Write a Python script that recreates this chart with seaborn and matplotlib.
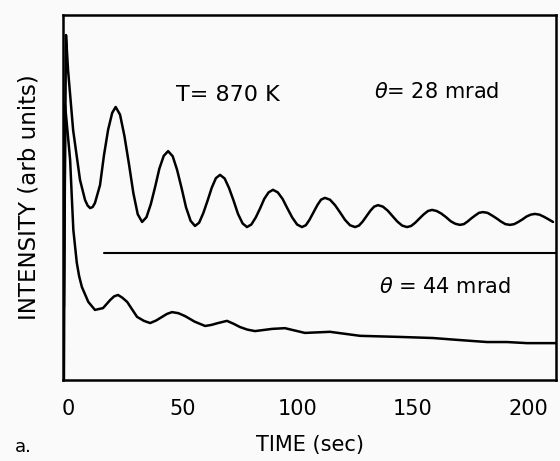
import matplotlib
matplotlib.use("Agg")
import matplotlib.pyplot as plt
import seaborn as sns
import pandas as pd

# values (time in sec, intensity in arb. units 0-100)
time_28 = [-1.8, -0.9, 0.0, 2.2, 5.2, 7.4, 8.5, 9.6, 10.7, 11.7, 13.9, 15.6,
           17.4, 19.2, 20.7,
           22.6, 24.5, 26.5, 28.4, 30.3, 32.2,
           34.1, 36.0, 37.9, 39.7, 41.6, 43.5,
           45.5, 47.4, 49.4, 51.3, 53.3, 55.2,
           57.0, 58.8, 60.7, 62.5, 64.3, 66.1,
           68.1, 70.0, 72.0, 73.9, 75.9, 77.8,
           79.7, 81.6, 83.5, 85.3, 87.2, 89.1,
           91.2, 93.3, 95.4, 97.5, 99.6, 101.7,
           103.4, 105.0, 106.7, 108.4, 110.0, 111.7,
           113.9, 116.1, 118.3, 120.4, 122.6, 124.8,
           126.5, 128.1, 129.8, 131.5, 133.1, 134.8,
           136.9, 139.0, 141.1, 143.2, 145.3, 147.4,
           149.2, 151.0, 152.9, 154.7, 156.5, 158.3,
           160.3, 162.3, 164.4, 166.4, 168.4, 170.4,
           172.1, 173.7, 175.4, 177.1, 178.7, 180.4,
           182.4, 184.3, 186.3, 188.3, 190.2, 192.2,
           194.0, 195.8, 197.6, 199.4, 201.2, 203.0,
           205.0, 207.0, 209.0, 210.9]
int_28 = [20.0, 94.5, 84.9, 68.5, 54.8, 49.3, 47.8, 47.1, 47.4, 48.5, 53.4, 61.5,
          68.5, 73.2, 74.8,
          72.7, 66.9, 59.1, 51.2, 45.4, 43.3,
          44.6, 48.2, 53.0, 57.9, 61.4, 62.7,
          61.3, 57.6, 52.5, 47.3, 43.6, 42.2,
          43.1, 45.7, 49.2, 52.7, 55.3, 56.2,
          55.2, 52.6, 49.1, 45.5, 42.9, 41.9,
          42.6, 44.5, 47.0, 49.6, 51.4, 52.1,
          51.4, 49.6, 47.0, 44.5, 42.6, 41.9,
          42.4, 43.9, 45.9, 47.9, 49.4, 49.9,
          49.4, 47.9, 45.9, 43.9, 42.4, 41.9,
          42.3, 43.4, 44.9, 46.4, 47.5, 47.9,
          47.5, 46.4, 44.9, 43.4, 42.3, 41.9,
          42.2, 43.1, 44.3, 45.4, 46.3, 46.6,
          46.3, 45.6, 44.6, 43.5, 42.8, 42.5,
          42.7, 43.4, 44.3, 45.1, 45.8, 46.0,
          45.8, 45.1, 44.3, 43.4, 42.7, 42.5,
          42.7, 43.3, 44.0, 44.8, 45.3, 45.5,
          45.3, 44.7, 44.0, 43.3]

time_44 = [-1.8, -1.3, 0.1, 0.9, 1.6, 2.3, 3.8, 4.8, 6.0, 8.8, 11.7, 15.2,
           18.3, 20.0, 21.7, 23.5, 25.7, 30.0, 33.0, 35.7, 38.3, 40.9, 43.0,
           45.2, 48.0, 50.9, 55.0, 59.6, 62.4, 65.2, 69.1, 72.0, 74.8, 78.0,
           81.3, 88.7, 94.3, 103.0, 113.9, 127.0, 144.3, 158.7, 169.1,
           182.2, 190.9, 199.6, 212.2]
int_44 = [0.0, 75.3, 65.8, 60.3, 50.5, 41.1, 32.1, 28.5, 25.5, 21.4, 19.2, 19.7,
          21.9, 22.9, 23.3, 22.6, 21.4, 17.3, 16.2, 15.6, 16.3, 17.3, 18.1,
          18.6, 18.3, 17.5, 16.0, 14.8, 15.1, 15.6, 16.2, 15.4, 14.5, 13.8,
          13.4, 14.0, 14.2, 12.9, 13.2, 12.1, 11.8, 11.5, 11.0,
          10.4, 10.4, 10.1, 10.1]

# separator line between the two traces
sep_time = [15.7, 212.2]
sep_level = [34.8, 34.8]

tick_vals = [0, 50, 100, 150, 200]

sns.set_style("white")
plt.rcParams['font.family'] = ['DejaVu Sans']
plt.rcParams['text.color'] = 'black'
plt.rcParams['axes.labelcolor'] = 'black'
plt.rcParams['xtick.color'] = 'black'

fig = plt.figure(figsize=(5.6, 4.61), dpi=100)
fig.patch.set_facecolor('#fafafa')
ax = fig.add_axes([0.1125, 0.1757, 0.8804, 0.7918])
ax.set_facecolor('#fafafa')

df28 = pd.DataFrame({'t': time_28, 'I': int_28})
df44 = pd.DataFrame({'t': time_44, 'I': int_44})
sns.lineplot(data=df28, x='t', y='I', sort=False, estimator=None,
             color='black', linewidth=1.8, ax=ax)
sns.lineplot(data=df44, x='t', y='I', sort=False, estimator=None,
             color='black', linewidth=1.8, ax=ax)
ax.plot(sep_time, sep_level, color='black', linewidth=1.5)

ax.set_xlim(-2.2, 212.2)
ax.set_ylim(0, 100)
ax.set_xticks(tick_vals)
ax.set_xticklabels([str(v) for v in tick_vals], fontsize=15)
ax.set_yticks([])
ax.tick_params(axis='x', direction='in', length=5, width=1.3, pad=14)
for s in ax.spines.values():
    s.set_linewidth(1.8)
    s.set_color('black')

ax.set_xlabel('TIME (sec)', fontsize=15, labelpad=11)
ax.set_ylabel('INTENSITY (arb units)', fontsize=16.5, labelpad=16)

ax.text(69.6, 78.1, 'T= 870 K', fontsize=16, ha='center', va='center')
ax.text(160.4, 78.9, r'$\theta$= 28 mrad', fontsize=15, ha='center', va='center')
ax.text(163.9, 25.5, r'$\theta$ = 44 mrad', fontsize=15, ha='center', va='center')
fig.text(15 / 560, 1 - 447 / 461, 'a.', fontsize=13, ha='left', va='center')

fig.savefig('out.png', dpi=100, facecolor=fig.get_facecolor())
